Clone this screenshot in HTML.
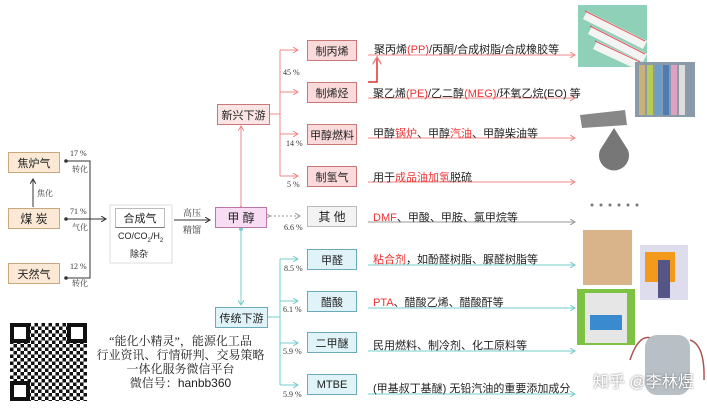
<!DOCTYPE html>
<html><head><meta charset="utf-8"><style>
body{margin:0;width:707px;height:408px;background:#fff;position:relative;overflow:hidden;font-family:"Liberation Sans","Noto Sans CJK SC",sans-serif;}
.b{position:absolute;box-sizing:border-box;font-size:11px;display:flex;align-items:center;justify-content:center;color:#222;}
.o{background:#fbe9d6;border:1px solid #c9a77f;}
.p{background:#fadada;border:1px solid #c77;}
.c{background:#dff3f8;border:1px solid #6aaabb;}
.t{position:absolute;font-size:11px;color:#222;white-space:nowrap;}
.s{position:absolute;font-size:8px;color:#333;font-family:"Liberation Serif","Noto Serif CJK SC",serif;white-space:nowrap;}
.r{color:#e33;}
svg{position:absolute;left:0;top:0;}
</style></head><body>
<svg width="707" height="408">
<defs>
<marker id="a" markerWidth="6" markerHeight="6" refX="5" refY="3" orient="auto"><path d="M0,0L5,3L0,6" fill="none" stroke="#333" stroke-width="1"/></marker>
<marker id="ap" markerWidth="6" markerHeight="6" refX="5" refY="3" orient="auto"><path d="M0,0L5,3L0,6" fill="none" stroke="#e88" stroke-width="1"/></marker>
<marker id="ac" markerWidth="6" markerHeight="6" refX="5" refY="3" orient="auto"><path d="M0,0L5,3L0,6" fill="none" stroke="#7cc" stroke-width="1"/></marker>
<marker id="ag" markerWidth="6" markerHeight="6" refX="5" refY="3" orient="auto"><path d="M0,0L5,3L0,6" fill="none" stroke="#999" stroke-width="1"/></marker>
</defs>
<g stroke="#333" stroke-width="1" fill="none">
<path d="M66,161H90V278H66M66,219H90"/>
<path d="M90,219H106" marker-end="url(#a)"/>
<path d="M33,207V179" marker-end="url(#a)"/>
<path d="M174,220H210" marker-end="url(#a)"/>
</g>
<g fill="#333"><circle cx="66" cy="161" r="1.8"/><circle cx="66" cy="219" r="1.8"/><circle cx="66" cy="278" r="1.8"/></g>
<rect x="110" y="205" width="62" height="58" fill="none" stroke="#ddd"/>
<g stroke="#e88" stroke-width="1" fill="none">
<path d="M241,206V126" marker-end="url(#ap)" marker-start="url(#ap)"/>
<path d="M270,114H280M280,50V176"/>
<path d="M280,50H298" marker-end="url(#ap)"/><path d="M280,92H298" marker-end="url(#ap)"/>
<path d="M280,134H298" marker-end="url(#ap)"/><path d="M280,176H298" marker-end="url(#ap)"/>
<path d="M368,55H575" marker-end="url(#ap)"/><path d="M368,98H575" marker-end="url(#ap)"/>
<path d="M368,138H575" marker-end="url(#ap)"/><path d="M368,182H575" marker-end="url(#ap)"/>
<path d="M368,82H377V57" stroke="#d33" stroke-width="1.5" marker-end="url(#ap)"/>
</g>
<path d="M270,216H300" stroke="#999" stroke-dasharray="2,2" marker-end="url(#ag)" marker-start="url(#ag)" fill="none"/>
<path d="M368,222H575" stroke="#999" marker-end="url(#ag)" fill="none"/>
<g stroke="#7cc" stroke-width="1" fill="none">
<path d="M241,229V305" marker-end="url(#ac)"/>
<path d="M268,317H280M280,259V385"/>
<path d="M280,259H298" marker-end="url(#ac)"/><path d="M280,301H298" marker-end="url(#ac)"/>
<path d="M280,343H298" marker-end="url(#ac)"/><path d="M280,385H298" marker-end="url(#ac)"/>
<path d="M368,265H575" marker-end="url(#ac)"/><path d="M368,308H575" marker-end="url(#ac)"/>
<path d="M368,351H575" marker-end="url(#ac)"/><path d="M368,394H575" marker-end="url(#ac)"/>
</g>
<circle cx="241" cy="229" r="2" fill="#7cc"/>
<!-- images -->
<rect x="578" y="5" width="69" height="62" fill="#8fd0b8"/>
<g stroke="#f4f4f4" stroke-width="9"><path d="M585,15L645,45M590,30L645,58M595,45L640,66"/></g>
<g stroke="#d55" stroke-width="1"><path d="M585,11L645,41M590,26L645,54M595,41L640,62"/></g>
<rect x="635" y="62" width="60" height="55" fill="#8a9aa8"/>
<g stroke-width="6"><path d="M642,65V115" stroke="#c9b27a"/><path d="M650,65V115" stroke="#b8cc55"/><path d="M658,65V115" stroke="#6b9ec9"/><path d="M666,65V115" stroke="#4f7db3"/><path d="M674,65V115" stroke="#e0a0c0"/><path d="M682,65V115" stroke="#ddd"/></g>
<path d="M580,115L625,110L627,125L582,128Z" fill="#888"/>
<path d="M614,128L628,150A15,15 0 1 1 600,150Z" fill="#777"/>
<g fill="#777"><circle cx="592" cy="205" r="1.5"/><circle cx="601" cy="205" r="1.5"/><circle cx="610" cy="205" r="1.5"/><circle cx="619" cy="205" r="1.5"/><circle cx="628" cy="205" r="1.5"/><circle cx="637" cy="205" r="1.5"/></g>
<rect x="583" y="230" width="49" height="55" fill="#d9b48a"/>
<rect x="640" y="245" width="48" height="55" fill="#dde"/>
<rect x="645" y="252" width="30" height="30" fill="#f39a1c"/>
<rect x="658" y="260" width="12" height="38" fill="#558"/>
<rect x="577" y="289" width="58" height="56" fill="#7dc242"/>
<rect x="585" y="293" width="42" height="50" fill="#e6e6e6"/>
<rect x="590" y="315" width="32" height="15" fill="#3a8ad0"/>
<path d="M630,360Q640,330 655,340M690,340Q705,345 704,380" stroke="#a55" fill="none" stroke-width="1.5"/>
<rect x="645" y="335" width="45" height="60" rx="12" fill="#b8c0c6"/>
</svg>
<div class="b o" style="left:8px;top:152px;width:52px;height:21px">焦炉气</div>
<div class="b o" style="left:8px;top:208px;width:52px;height:21px;font-size:12px">煤 炭</div>
<div class="b o" style="left:8px;top:263px;width:52px;height:21px">天然气</div>
<div class="s" style="left:70px;top:149px">17 %</div><div class="s" style="left:72px;top:164px">转化</div>
<div class="s" style="left:70px;top:207px">71 %</div><div class="s" style="left:72px;top:222px">气化</div>
<div class="s" style="left:70px;top:262px">12 %</div><div class="s" style="left:72px;top:278px">转化</div>
<div class="s" style="left:37px;top:188px">焦化</div>
<div class="b" style="left:115px;top:208px;width:50px;height:20px;border:1px solid #bbb;border-bottom-color:#777">合成气</div>
<div class="t" style="left:118px;top:231px;font-size:9px">CO/CO<sub style="font-size:6px">2</sub>/H<sub style="font-size:6px">2</sub></div>
<div class="t" style="left:130px;top:247px;font-size:9px">除杂</div>
<div class="s" style="left:183px;top:206px;font-size:9px">高压</div><div class="s" style="left:183px;top:223px;font-size:9px">精馏</div>
<div class="b" style="left:215px;top:207px;width:52px;height:21px;background:#f8dcf4;border:1px solid #b7a;font-size:12px">甲 醇</div>
<div class="b p" style="left:217px;top:104px;width:53px;height:21px;background:#fbe4e4">新兴下游</div>
<div class="b c" style="left:215px;top:307px;width:53px;height:21px">传统下游</div>
<div class="b p" style="left:307px;top:40px;width:50px;height:21px">制丙烯</div>
<div class="b p" style="left:307px;top:82px;width:50px;height:21px">制烯烃</div>
<div class="b p" style="left:307px;top:124px;width:50px;height:21px">甲醇燃料</div>
<div class="b p" style="left:307px;top:166px;width:50px;height:21px">制氢气</div>
<div class="b" style="left:307px;top:206px;width:50px;height:21px;background:#f3f3f3;border:1px solid #bbb;font-size:12px">其 他</div>
<div class="b c" style="left:307px;top:249px;width:50px;height:21px">甲醛</div>
<div class="b c" style="left:307px;top:291px;width:50px;height:21px">醋酸</div>
<div class="b c" style="left:307px;top:332px;width:50px;height:21px">二甲醚</div>
<div class="b c" style="left:307px;top:374px;width:50px;height:21px">MTBE</div>
<div class="s" style="left:283px;top:68px">45 %</div><div class="s" style="left:286px;top:139px">14 %</div>
<div class="s" style="left:287px;top:180px">5 %</div><div class="s" style="left:284px;top:223px">6.6 %</div>
<div class="s" style="left:284px;top:264px">8.5 %</div><div class="s" style="left:283px;top:305px">6.1 %</div>
<div class="s" style="left:283px;top:347px">5.9 %</div><div class="s" style="left:283px;top:390px">5.9 %</div>
<div class="t" style="left:374px;top:41px">聚丙烯<span class="r">(PP)</span>/丙酮/合成树脂/合成橡胶等</div>
<div class="t" style="left:373px;top:85px">聚乙烯<span class="r">(PE)</span>/乙二醇<span class="r">(MEG)</span>/环氧乙烷(EO) 等</div>
<div class="t" style="left:373px;top:125px">甲醇<span class="r">锅炉</span>、甲醇<span class="r">汽油</span>、甲醇柴油等</div>
<div class="t" style="left:373px;top:169px">用于<span class="r">成品油加氢</span>脱硫</div>
<div class="t" style="left:373px;top:209px"><span class="r">DMF</span>、甲酸、甲胺、氯甲烷等</div>
<div class="t" style="left:373px;top:251px"><span class="r">粘合剂</span>，如酚醛树脂、脲醛树脂等</div>
<div class="t" style="left:373px;top:294px"><span class="r">PTA</span>、醋酸乙烯、醋酸酐等</div>
<div class="t" style="left:373px;top:337px">民用燃料、制冷剂、化工原料等</div>
<div class="t" style="left:373px;top:380px">(甲基叔丁基醚) 无铅汽油的重要添加成分</div>
<div style="position:absolute;left:10px;top:323px;width:77px;height:78px;background:repeating-conic-gradient(#111 0 25%,#fff 0 50%) 0 0/7px 7px"></div>
<div style="position:absolute;left:10px;top:323px;width:20px;height:20px;border:4px solid #111;background:#fff;box-sizing:border-box"></div>
<div style="position:absolute;left:67px;top:323px;width:20px;height:20px;border:4px solid #111;background:#fff;box-sizing:border-box"></div>
<div style="position:absolute;left:10px;top:381px;width:20px;height:20px;border:4px solid #111;background:#fff;box-sizing:border-box"></div>
<div style="position:absolute;left:88px;top:334px;width:185px;text-align:center;font-family:'Liberation Serif','Noto Serif CJK SC',serif;font-size:12px;line-height:14px;color:#222">“能化小精灵”，能源化工品<br>行业资讯、行情研判、交易策略<br>一体化服务微信平台<br>微信号：<span style="font-family:'Liberation Sans',sans-serif">hanbb360</span></div>
<div class="t" style="left:593px;top:368px;font-size:16px;color:#fff;text-shadow:0 0 2px #666">知乎 @李林煜</div>
</body></html>
